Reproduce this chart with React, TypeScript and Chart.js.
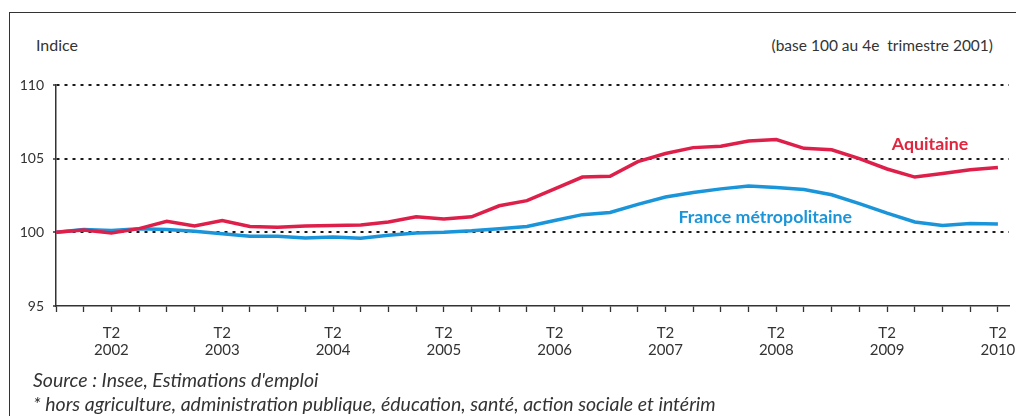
import React, { useEffect, useRef } from "react";
import { Chart, registerables } from "chart.js";

Chart.register(...registerables);

const quarters = [
  "T4 2001",
  "T1 2002", "T2 2002", "T3 2002", "T4 2002",
  "T1 2003", "T2 2003", "T3 2003", "T4 2003",
  "T1 2004", "T2 2004", "T3 2004", "T4 2004",
  "T1 2005", "T2 2005", "T3 2005", "T4 2005",
  "T1 2006", "T2 2006", "T3 2006", "T4 2006",
  "T1 2007", "T2 2007", "T3 2007", "T4 2007",
  "T1 2008", "T2 2008", "T3 2008", "T4 2008",
  "T1 2009", "T2 2009", "T3 2009", "T4 2009",
  "T1 2010", "T2 2010",
];

const aquitaine = [
  100, 100.15, 99.95, 100.25, 100.75, 100.43, 100.8, 100.4, 100.34, 100.43,
  100.47, 100.5, 100.7, 101.05, 100.9, 101.05, 101.8, 102.15, 102.95, 103.75,
  103.8, 104.8, 105.35, 105.75, 105.85, 106.2, 106.3, 105.7, 105.6, 105.0,
  104.3, 103.75, 104.0, 104.25, 104.4,
];

const france = [
  100, 100.2, 100.13, 100.25, 100.2, 100.07, 99.9, 99.73, 99.73, 99.62,
  99.68, 99.6, 99.8, 99.95, 100.0, 100.1, 100.25, 100.4, 100.8, 101.2,
  101.35, 101.9, 102.4, 102.7, 102.95, 103.15, 103.05, 102.9, 102.55, 101.95,
  101.3, 100.7, 100.47, 100.6, 100.57,
];

const seriesNames = ["Aquitaine", "France métropolitaine"];
const seriesColors = ["#DD1F4A", "#1B95DA"];
const labelColors = ["#E0263F", "#1B95DA"];
// label anchors in data coordinates (quarter index, index value)
const labelAnchors = [
  [31.55, 105.97],
  [25.6, 101.0],
];
const yTicks = [95, 100, 105, 110];

const FONT = "Lato, 'Open Sans', sans-serif";
const TEXT = "#333333";

export default function App() {
  const ref = useRef<HTMLCanvasElement | null>(null);

  useEffect(() => {
    const canvas = ref.current;
    if (!canvas) return;

    const labelPlugin = {
      id: "seriesLabels",
      afterDatasetsDraw(chart: any) {
        const { ctx, scales } = chart;
        ctx.save();
        ctx.font = `bold 17.8px ${FONT}`;
        ctx.textAlign = "center";
        ctx.textBaseline = "middle";
        seriesNames.forEach((name, i) => {
          ctx.fillStyle = labelColors[i];
          ctx.fillText(
            name,
            scales.x.getPixelForValue(labelAnchors[i][0]),
            scales.y.getPixelForValue(labelAnchors[i][1])
          );
        });
        ctx.restore();
      },
    };

    const chart = new Chart(canvas, {
      type: "line",
      data: {
        datasets: [
          {
            label: seriesNames[0],
            data: aquitaine.map((v, i) => ({ x: i, y: v })),
            borderColor: seriesColors[0],
            borderWidth: 3.5,
            pointRadius: 0,
            tension: 0,
          },
          {
            label: seriesNames[1],
            data: france.map((v, i) => ({ x: i, y: v })),
            borderColor: seriesColors[1],
            borderWidth: 3.5,
            pointRadius: 0,
            tension: 0,
          },
        ],
      },
      options: {
        animation: false,
        responsive: false,
        maintainAspectRatio: false,
        layout: { padding: { left: 0, top: 85, right: 7, bottom: 60 } },
        plugins: {
          legend: { display: false },
          tooltip: { enabled: false },
        },
        scales: {
          x: {
            type: "linear",
            min: 0,
            max: 34.4,
            afterFit: (s: any) => {
              s.height = 50;
              s.paddingLeft = 0;
              s.paddingRight = 0;
            },
            border: { display: true, color: "#333", width: 1.5 },
            grid: {
              drawOnChartArea: false,
              drawTicks: true,
              tickLength: 6,
              tickColor: "#333",
              tickWidth: 1.3,
            },
            ticks: {
              stepSize: 1,
              autoSkip: false,
              includeBounds: false,
              maxRotation: 0,
              padding: 13,
              color: TEXT,
              font: { family: FONT, size: 15, lineHeight: 1.1 },
              callback: (v: any) => {
                const q = quarters[Math.round(Number(v))];
                if (!q || !q.startsWith("T2")) return "";
                const [t, y] = q.split(" ");
                return [t, y];
              },
            },
          },
          y: {
            min: 95,
            max: 110,
            afterFit: (s: any) => {
              s.width = 56;
            },
            afterBuildTicks: (s: any) => {
              s.ticks = yTicks.map((v) => ({ value: v }));
            },
            border: { display: true, color: "#333", width: 1.5, dash: [3, 5] },
            grid: {
              color: (c: any) => (c.tick && c.tick.value === 95 ? "rgba(0,0,0,0)" : "#1a1a1a"),
              lineWidth: 2,
              drawTicks: true,
              tickLength: 3,
              tickColor: "#333",
              tickWidth: 1.3,
              tickBorderDash: [],
            },
            ticks: {
              padding: 9,
              color: TEXT,
              font: { family: FONT, size: 14 },
            },
          },
        },
      },
      plugins: [labelPlugin],
    });

    return () => chart.destroy();
  }, []);

  return (
    <div
      style={{
        position: "fixed",
        left: 0,
        top: 0,
        width: 1016,
        height: 416,
        background: "#fff",
        fontFamily: FONT,
        color: TEXT,
        overflow: "hidden",
      }}
    >
      <div
        style={{
          position: "absolute",
          left: 9,
          top: 12,
          width: 1016,
          height: 420,
          borderTop: "1.5px solid #333",
          borderLeft: "1.5px solid #333",
          boxSizing: "border-box",
        }}
      />
      <div style={{ position: "absolute", left: 36, top: 35, fontSize: 16, lineHeight: "20px" }}>
        Indice
      </div>
      <div
        style={{
          position: "absolute",
          right: 23,
          top: 35,
          fontSize: 15.5,
          lineHeight: "20px",
          whiteSpace: "pre",
        }}
      >
        (base 100 au 4e  trimestre 2001)
      </div>
      <canvas ref={ref} width={1016} height={416} style={{ position: "absolute", left: 0, top: 0 }} />
      <div
        style={{
          position: "absolute",
          left: 33,
          top: 368,
          fontSize: 19.5,
          lineHeight: "24px",
          fontStyle: "italic",
          whiteSpace: "nowrap",
        }}
      >
        <div>Source : Insee, Estimations d'emploi</div>
        <div>* hors agriculture, administration publique, éducation, santé, action sociale et intérim</div>
      </div>
    </div>
  );
}
